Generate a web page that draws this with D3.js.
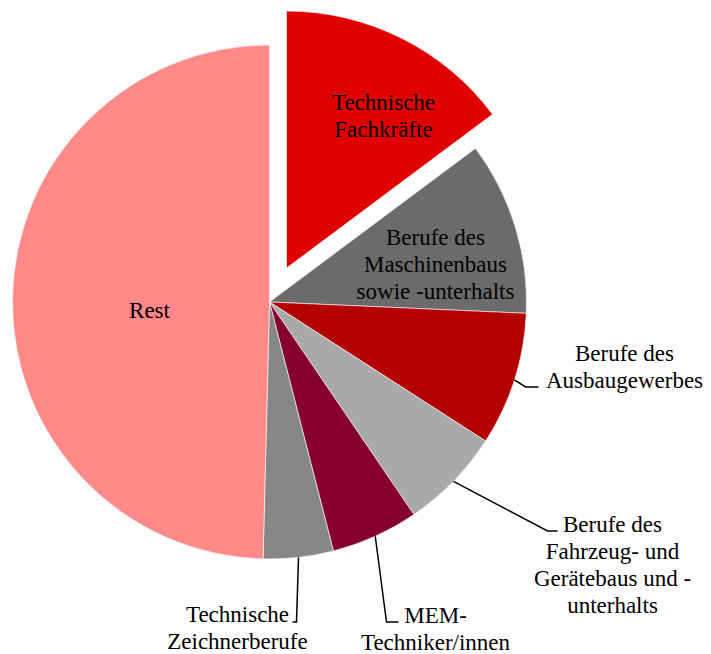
<!DOCTYPE html>
<meta charset="utf-8">
<style>
body { margin: 0; background: #fff; }
svg text { font-family: "Liberation Serif", "Times New Roman", serif; font-size: 23px; fill: #000; }
.leaders path { fill: none; stroke: #000; stroke-width: 1.5px; }
</style>
<svg width="711" height="654"></svg>
<script src="https://d3js.org/d3.v7.min.js"></script>
<script>
// shares in percent, clockwise from 12 o'clock
var categories = ["Technische Fachkräfte", "Berufe des Maschinenbaus sowie -unterhalts",
  "Berufe des Ausbaugewerbes", "Berufe des Fahrzeug- und Gerätebaus und -unterhalts",
  "MEM-Techniker/innen", "Technische Zeichnerberufe", "Rest"];
var values = [14.8, 10.9, 8.4, 6.4, 5.5, 4.4, 49.6];
var labelLines = [
  ["Technische", "Fachkräfte"],
  ["Berufe des", "Maschinenbaus", "sowie -unterhalts"],
  ["Berufe des", "Ausbaugewerbes"],
  ["Berufe des", "Fahrzeug- und", "Gerätebaus und -", "unterhalts"],
  ["MEM-", "Techniker/innen"],
  ["Technische", "Zeichnerberufe"],
  ["Rest"]
];
var colors = ["#e00000", "#6b6b6b", "#b30000", "#a9a9a9", "#86002e", "#878787", "#ff8888"];

var svg = d3.select("svg"),
    cx = 269.5, cy = 302, radius = 257, explode = 38, lineH = 27;

// label layout relative to pie centre: x = centre of text block, y = first baseline,
// elbow/end = leader bend points (outside labels only)
var layout = [
  {x: 114, y: -192},
  {x: 166, y: -57},
  {x: 355, y: 59, elbow: [256, 85], end: [269, 85]},
  {x: 343, y: 230, elbow: [278, 229], end: [288, 229]},
  {x: 166, y: 321, elbow: [117, 320], end: [129, 320]},
  {x: -32, y: 320, elbow: [27, 320], end: [23, 320]},
  {x: -120, y: 16}
];

var pie = d3.pie().sort(null).value(function(d) { return d; });
var arcs = pie(values);
var arc = d3.arc().innerRadius(0).outerRadius(radius);

var g = svg.append("g").attr("transform", "translate(" + cx + "," + cy + ")");

function mid(d) { return (d.startAngle + d.endAngle) / 2; }
function offset(d, i) {
  var k = i === 0 ? explode : 0, a = mid(d);
  return [Math.sin(a) * k, -Math.cos(a) * k];
}

g.append("g").selectAll("path")
  .data(arcs)
  .enter().append("path")
    .attr("d", arc)
    .attr("fill", function(d, i) { return colors[i]; })
    .attr("stroke", "#fff")
    .attr("stroke-width", 0.6)
    .attr("transform", function(d, i) { return "translate(" + offset(d, i) + ")"; });

var line = d3.line();
g.append("g").attr("class", "leaders").selectAll("path")
  .data(arcs.filter(function(d, i) { return layout[i].elbow; }))
  .enter().append("path")
    .attr("d", function(d) {
      var L = layout[d.index], a = mid(d);
      var start = [Math.sin(a) * radius, -Math.cos(a) * radius];
      return line([start, L.elbow, L.end]);
    });

var labels = g.append("g").selectAll("text")
  .data(arcs)
  .enter().append("text")
    .attr("text-anchor", "middle");

labels.selectAll("tspan")
  .data(function(d, i) {
    return labelLines[i].map(function(t, j) { return {t: t, j: j, L: layout[i]}; });
  })
  .enter().append("tspan")
    .attr("x", function(e) { return e.L.x; })
    .attr("y", function(e) { return e.L.y + e.j * lineH; })
    .text(function(e) { return e.t; });
</script>
